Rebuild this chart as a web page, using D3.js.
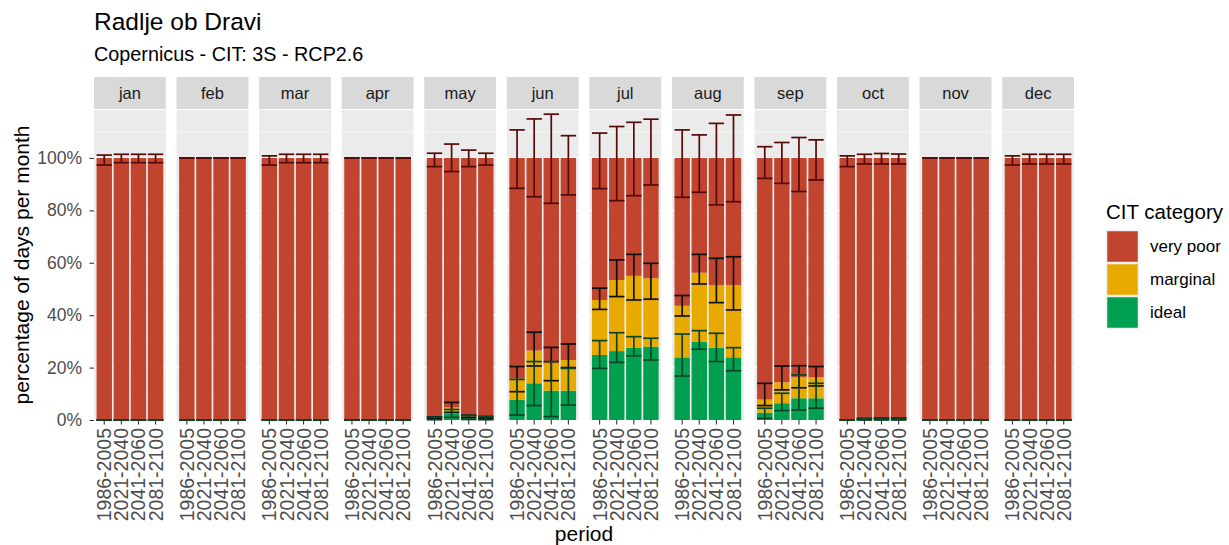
<!DOCTYPE html>
<html>
<head>
<meta charset="utf-8">
<script src="https://cdn.jsdelivr.net/npm/d3@7"></script>
<style>
  html, body { margin: 0; padding: 0; background: #ffffff; }
  svg { display: block; font-family: "Liberation Sans", Arial, sans-serif; }
</style>
</head>
<body>
<svg id="chart" width="1229" height="545"></svg>
<script>
// Monthly climate-index-for-tourism (CIT) categories for Radlje ob Dravi
const months = ["jan", "feb", "mar", "apr", "may", "jun", "jul", "aug", "sep", "oct", "nov", "dec"];
const periods = ["1986-2005", "2021-2040", "2041-2060", "2081-2100"];
const categories = ["very poor", "marginal", "ideal"];
const yTicks = [0, 20, 40, 60, 80, 100];

// Share of days per month in each category (%), one row per month, one column per period
const veryPoorPct = [
  [100, 100, 100, 100],
  [100, 100, 100, 100],
  [100, 100, 100, 100],
  [100, 100, 100, 100],
  [99.1, 95.2, 98.6, 99.0],
  [84.1, 73.5, 78.4, 77.1],
  [54.2, 46.6, 45.0, 45.9],
  [56.4, 43.8, 48.5, 48.5],
  [92.2, 85.6, 83.7, 83.7],
  [100, 99.6, 99.5, 99.5],
  [100, 100, 100, 100],
  [100, 100, 100, 100]
];
const marginalPct = [
  [0, 0, 0, 0],
  [0, 0, 0, 0],
  [0, 0, 0, 0],
  [0, 0, 0, 0],
  [0.3, 2.3, 0.4, 0.3],
  [8.1, 12.5, 10.4, 11.7],
  [21.0, 27.1, 27.4, 26.1],
  [19.7, 26.3, 23.9, 27.6],
  [5.0, 8.0, 8.0, 8.0],
  [0, 0.2, 0.2, 0.2],
  [0, 0, 0, 0],
  [0, 0, 0, 0]
];
const idealPct = [
  [0, 0, 0, 0],
  [0, 0, 0, 0],
  [0, 0, 0, 0],
  [0, 0, 0, 0],
  [0.6, 2.5, 1.0, 0.7],
  [7.8, 14.0, 11.2, 11.2],
  [24.8, 26.3, 27.6, 28.0],
  [23.9, 29.9, 27.6, 23.9],
  [2.8, 6.4, 8.3, 8.3],
  [0, 0.2, 0.3, 0.3],
  [0, 0, 0, 0],
  [0, 0, 0, 0]
];

// Spread below / above each stacked boundary (percentage points)
const veryPoorErrLo = [
  [2.7, 1.8, 1.8, 1.8], [0, 0, 0, 0], [2.7, 1.8, 1.8, 1.8], [0, 0, 0, 0],
  [3.3, 5.2, 3.3, 2.7], [11.6, 14.8, 17.3, 14.1], [11.7, 16.3, 14.4, 10.3], [15.0, 13.1, 17.9, 16.7],
  [7.8, 9.7, 12.8, 8.4], [3.3, 2.3, 2.3, 2.3], [0, 0, 0, 0], [2.7, 2.3, 2.3, 2.3]
];
const veryPoorErrHi = [
  [1.1, 1.4, 1.4, 1.4], [0, 0, 0, 0], [0.8, 1.4, 1.4, 1.4], [0, 0, 0, 0],
  [1.8, 5.3, 3.0, 1.8], [10.7, 14.9, 16.7, 8.5], [9.5, 12.0, 13.6, 14.8], [10.7, 8.8, 13.2, 16.4],
  [4.3, 5.9, 7.8, 6.9], [0.8, 1.4, 1.7, 1.5], [0, 0, 0, 0], [0.8, 1.4, 1.4, 1.4]
];
const marginalErrLo = [
  [0, 0, 0, 0], [0, 0, 0, 0], [0, 0, 0, 0], [0, 0, 0, 0],
  [0.3, 1.9, 0.4, 0.3], [5.1, 5.9, 6.6, 2.9], [3.6, 6.3, 9.2, 8.0], [3.9, 4.3, 6.7, 9.5],
  [2.3, 2.9, 4.0, 3.3], [0, 0.2, 0.2, 0.2], [0, 0, 0, 0], [0, 0, 0, 0]
];
const marginalErrHi = [
  [0, 0, 0, 0], [0, 0, 0, 0], [0, 0, 0, 0], [0, 0, 0, 0],
  [0.3, 1.9, 0.4, 0.3], [4.5, 7.0, 6.1, 6.1], [4.5, 7.7, 8.2, 5.7], [3.9, 7.0, 10.2, 10.8],
  [6.2, 6.2, 4.4, 4.1], [0, 0.2, 0.2, 0.2], [0, 0, 0, 0], [0, 0, 0, 0]
];
const idealErrLo = [
  [0, 0, 0, 0], [0, 0, 0, 0], [0, 0, 0, 0], [0, 0, 0, 0],
  [0.5, 1.5, 0.8, 0.6], [5.9, 8.5, 9.9, 5.5], [5.1, 4.3, 3.1, 5.1], [7.1, 2.9, 5.3, 5.1],
  [2.2, 2.8, 4.5, 3.8], [0, 0.2, 0.3, 0.3], [0, 0, 0, 0], [0, 0, 0, 0]
];
const idealErrHi = [
  [0, 0, 0, 0], [0, 0, 0, 0], [0, 0, 0, 0], [0, 0, 0, 0],
  [0.5, 1.5, 0.8, 0.6], [7.7, 8.3, 11.1, 8.5], [5.5, 7.0, 4.2, 3.2], [8.9, 4.2, 5.5, 3.7],
  [1.7, 3.8, 8.9, 5.7], [0, 0.2, 0.3, 0.3], [0, 0, 0, 0], [0, 0, 0, 0]
];

const fills = { "very poor": "#c1442f", "marginal": "#e9aa00", "ideal": "#00a050" };
const errColors = { "very poor": "#560909", "marginal": "#0f0f0f", "ideal": "#0b4528" };

// Build stacked records: ideal at the bottom, then marginal, then very poor
const valueSets = { "ideal": idealPct, "marginal": marginalPct, "very poor": veryPoorPct };
const errSets = {
  "ideal": [idealErrLo, idealErrHi],
  "marginal": [marginalErrLo, marginalErrHi],
  "very poor": [veryPoorErrLo, veryPoorErrHi]
};
const stackOrder = ["ideal", "marginal", "very poor"];
const records = [];
months.forEach((m, mi) => {
  periods.forEach((p, pi) => {
    let base = 0;
    stackOrder.forEach(cat => {
      const v = valueSets[cat][mi][pi];
      const top = base + v;
      records.push({
        month: m, period: p, cat, y0: base, y1: top,
        lo: top - errSets[cat][0][mi][pi],
        hi: top + errSets[cat][1][mi][pi]
      });
      base = top;
    });
  });
});

const svg = d3.select("#chart");
svg.append("rect").attr("width", 1229).attr("height", 545).attr("fill", "#ffffff");

const panelTop = 110, panelBottom = 420;
const stripTop = 77, stripH = 32;

const fx = d3.scaleBand().domain(months).range([94, 1074]).paddingInner(0.13).paddingOuter(0);
const x = d3.scaleBand().domain(periods).range([0, fx.bandwidth()]).paddingInner(0.1).paddingOuter(0.15);
const y = d3.scaleLinear().domain([0, 118.3]).range([panelBottom, panelTop]);

// Title and subtitle
svg.append("text").attr("x", 94).attr("y", 30).attr("font-size", 24.5).attr("fill", "#000")
  .text("Radlje ob Dravi");
svg.append("text").attr("x", 94).attr("y", 61).attr("font-size", 19.8).attr("fill", "#000")
  .text("Copernicus - CIT: 3S - RCP2.6");

const panels = svg.selectAll("g.panel").data(months).join("g")
  .attr("class", "panel")
  .attr("transform", d => `translate(${fx(d)},0)`);

// strip
panels.append("rect").attr("x", 0).attr("y", stripTop).attr("width", fx.bandwidth()).attr("height", stripH)
  .attr("fill", "#d9d9d9");
panels.append("text").attr("x", fx.bandwidth() / 2).attr("y", stripTop + stripH / 2 + 5.5)
  .attr("text-anchor", "middle").attr("font-size", 16.5).attr("fill", "#1a1a1a").text(d => d);

// panel background and grid
panels.append("rect").attr("x", 0).attr("y", panelTop).attr("width", fx.bandwidth())
  .attr("height", panelBottom - panelTop).attr("fill", "#ebebeb");
const minor = d3.range(10, 118, 20);
panels.each(function () {
  const g = d3.select(this);
  g.selectAll("line.minor").data(minor).join("line").attr("class", "minor")
    .attr("x1", 0).attr("x2", fx.bandwidth()).attr("y1", d => y(d)).attr("y2", d => y(d))
    .attr("stroke", "#ffffff").attr("stroke-width", 0.6);
  g.selectAll("line.major").data(yTicks).join("line").attr("class", "major")
    .attr("x1", 0).attr("x2", fx.bandwidth()).attr("y1", d => y(d)).attr("y2", d => y(d))
    .attr("stroke", "#ffffff").attr("stroke-width", 1.2);
});

// bars
panels.each(function (m) {
  const g = d3.select(this);
  const recs = records.filter(r => r.month === m);
  g.selectAll("rect.bar").data(recs.filter(r => r.y1 > r.y0)).join("rect").attr("class", "bar")
    .attr("x", d => x(d.period)).attr("width", x.bandwidth())
    .attr("y", d => y(d.y1)).attr("height", d => y(d.y0) - y(d.y1))
    .attr("fill", d => fills[d.cat]);

  // error bars, drawn in legend order
  const errRecs = categories.flatMap(c => recs.filter(r => r.cat === c));
  const eb = g.selectAll("g.err").data(errRecs).join("g").attr("class", "err")
    .attr("stroke", d => errColors[d.cat]).attr("stroke-width", 1.7).attr("fill", "none");
  const cx = d => x(d.period) + x.bandwidth() / 2;
  eb.append("line").attr("x1", cx).attr("x2", cx).attr("y1", d => y(d.lo)).attr("y2", d => y(d.hi));
  eb.append("line").attr("x1", d => x(d.period)).attr("x2", d => x(d.period) + x.bandwidth())
    .attr("y1", d => y(d.lo)).attr("y2", d => y(d.lo));
  eb.append("line").attr("x1", d => x(d.period)).attr("x2", d => x(d.period) + x.bandwidth())
    .attr("y1", d => y(d.hi)).attr("y2", d => y(d.hi));

  // x axis per panel
  const ax = g.append("g").attr("transform", `translate(0,${panelBottom})`)
    .call(d3.axisBottom(x).tickSizeOuter(0).tickSizeInner(4.5).tickPadding(3));
  ax.select(".domain").remove();
  ax.selectAll(".tick line").attr("stroke", "#333333").attr("stroke-width", 1.1);
  ax.selectAll(".tick text")
    .attr("font-size", 19.5).attr("fill", "#4d4d4d").attr("font-family", "Liberation Sans, Arial, sans-serif")
    .attr("transform", "rotate(-90)").attr("text-anchor", "end")
    .attr("x", -8).attr("y", 0).attr("dy", "0.36em");
});

// y axis
const yAx = svg.append("g").attr("transform", "translate(94,0)")
  .call(d3.axisLeft(y).tickValues(yTicks).tickFormat(d => d + "%").tickSizeOuter(0).tickSizeInner(4.5).tickPadding(7.5));
yAx.select(".domain").remove();
yAx.selectAll(".tick line").attr("stroke", "#333333").attr("stroke-width", 1.1);
yAx.selectAll(".tick text").attr("font-size", 17.5).attr("fill", "#4d4d4d")
  .attr("font-family", "Liberation Sans, Arial, sans-serif");

// axis titles
svg.append("text").attr("transform", `translate(29,${(panelTop + panelBottom) / 2}) rotate(-90)`)
  .attr("text-anchor", "middle").attr("font-size", 21).attr("fill", "#000")
  .text("percentage of days per month");
svg.append("text").attr("x", (94 + 1074) / 2).attr("y", 541)
  .attr("text-anchor", "middle").attr("font-size", 21).attr("fill", "#000").text("period");

// legend
const lg = svg.append("g").attr("transform", "translate(1106,0)");
lg.append("text").attr("x", 0).attr("y", 219).attr("font-size", 20.5).attr("fill", "#000").text("CIT category");
const keys = lg.selectAll("g.key").data(categories).join("g").attr("class", "key")
  .attr("transform", (d, i) => `translate(0,${230 + i * 33})`);
keys.append("rect").attr("x", 0.5).attr("y", 0.5).attr("width", 32).attr("height", 32)
  .attr("fill", d => fills[d]).attr("stroke", "#f0f0f0").attr("stroke-width", 1.5);
keys.append("text").attr("x", 44).attr("y", 16.5).attr("dy", "0.35em")
  .attr("font-size", 17).attr("fill", "#000").text(d => d);
</script>
</body>
</html>
